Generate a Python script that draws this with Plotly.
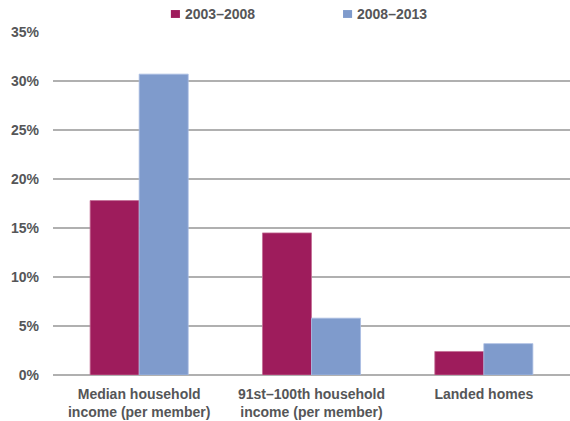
import plotly.graph_objects as go

# Growth by period (percent)
categories = [
    "Median household<br>income (per member)",
    "91st\u2013100th household<br>income (per member)",
    "Landed homes",
]
series_names = ["2003\u20132008", "2008\u20132013"]
growth_2003_2008 = [17.8, 14.5, 2.4]
growth_2008_2013 = [30.7, 5.8, 3.2]
tick_values = [0, 5, 10, 15, 20, 25, 30, 35]
tick_labels = ["0%", "5%", "10%", "15%", "20%", "25%", "30%", "35%"]

colors = ["#9e1c5c", "#7f9bcc"]
edge_colors = ["#c46d95", "#aabde2"]
text_color = "#555658"
font_family = "Liberation Sans, Arial, sans-serif"

fig = go.Figure()
for name, values, col, edge in zip(series_names, [growth_2003_2008, growth_2008_2013], colors, edge_colors):
    fig.add_trace(go.Bar(
        x=categories, y=values, name=name,
        marker=dict(color=col, line=dict(color=edge, width=0.8)),
        showlegend=False,
    ))

# Legend drawn as small squares with labels above the plot area
legend_x = [0.228, 0.561]
for name, col, lx in zip(series_names, colors, legend_x):
    fig.add_shape(type="rect", xref="paper", yref="paper",
                  x0=lx, x1=lx + 0.0175, y0=1.041, y1=1.064,
                  fillcolor=col, line=dict(width=0))
    fig.add_annotation(x=lx + 0.0235, y=1.053, xref="paper", yref="paper",
                       text="<b>%s</b>" % name, showarrow=False,
                       xanchor="left", yanchor="middle",
                       font=dict(size=14, color=text_color, family=font_family))

fig.update_layout(
    width=570, height=421,
    margin=dict(l=53, r=0, t=32, b=46),
    paper_bgcolor="white", plot_bgcolor="white",
    barmode="group", bargap=0.431, bargroupgap=0,
    font=dict(family=font_family, size=14, color=text_color),
)
fig.update_xaxes(
    showgrid=False, showline=False, ticks="",
    tickfont=dict(size=14, color=text_color, family=font_family, weight="bold"),
    ticklabelstandoff=9,
)
fig.update_yaxes(
    range=[0, 35], tickvals=tick_values, ticktext=tick_labels,
    showgrid=True, gridcolor="#b0b0b0", gridwidth=1.5,
    zeroline=True, zerolinecolor="#b0b0b0", zerolinewidth=1.5,
    showline=False, ticks="",
    tickfont=dict(size=14, color=text_color, family=font_family, weight="bold"),
    ticklabelstandoff=13,
)

fig.write_html("out.html")
